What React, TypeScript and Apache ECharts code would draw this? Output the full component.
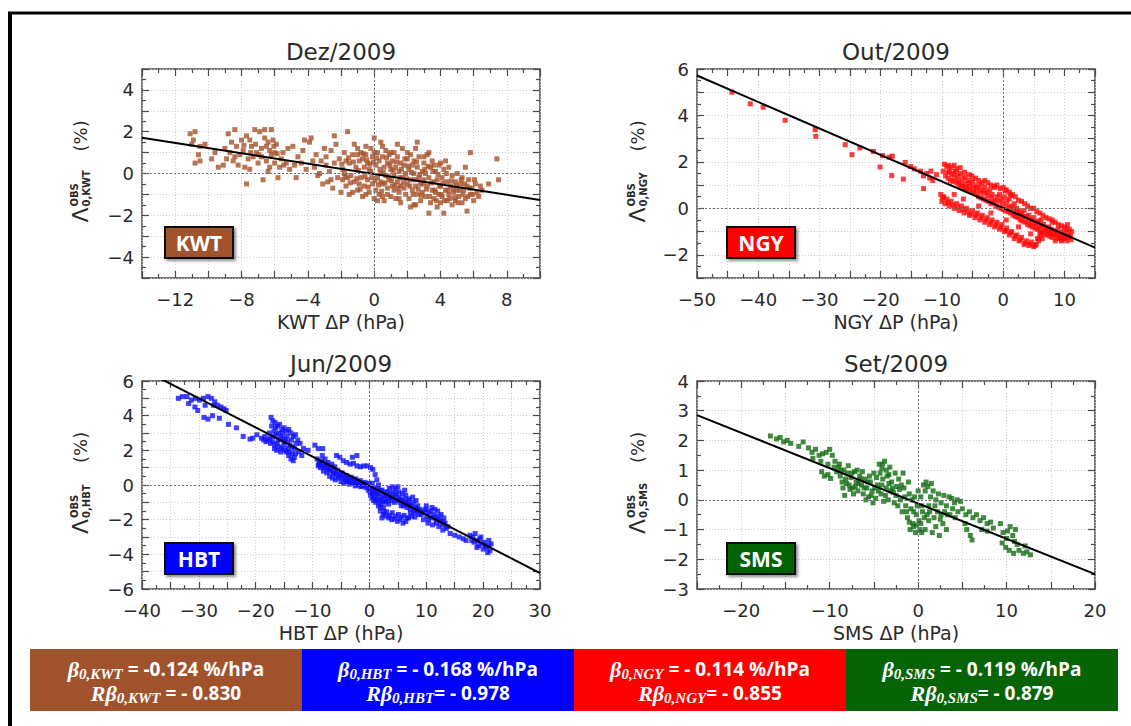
import React, { useEffect, useRef } from 'react';
import * as echarts from 'echarts';

// ---------- data ----------
const KWT_POINTS: number[][] = [
  [-11.1,1.9],[-10.8,2.0],[-10.9,1.6],[-11.0,1.4],[-10.5,1.3],[-10.6,0.9],[-10.8,0.5],[-10.5,0.6],[-10.2,1.4],
  [-9.8,0.7],[-9.4,0.3],[-9.1,0.4],[-9.6,1.0],
  [-8.8,1.9],[-8.4,2.1],[-8.7,1.0],[-8.3,1.3],[-8.1,0.9],[-8.5,0.6],[-8.9,0.7],[-8.2,0.4],[-8.0,1.6],[-8.6,1.5],
  [-7.9,1.1],[-7.7,1.8],[-7.5,1.6],[-7.3,0.8],[-7.6,0.7],[-7.1,1.0],[-7.8,0.3],[-7.7,-0.5],[-7.2,2.1],[-7.4,1.3],[-7.0,0.5],[-7.5,0.2],
  [-6.9,2.0],[-6.6,2.1],[-6.4,1.5],[-6.8,1.2],[-6.2,0.9],[-6.5,0.6],[-6.3,0.3],[-6.0,1.0],[-6.7,-0.3],[-6.1,1.6],[-6.5,1.3],[-6.2,2.1],[-6.0,0.5],[-6.4,0.1],[-6.8,0.8],
  [-5.9,1.4],[-5.8,-0.2],[-5.6,0.7],[-5.5,1.0],[-5.3,0.5],[-5.2,1.2],[-5.7,0.3],[-5.1,0.2],
  [-4.9,1.3],[-4.7,-0.2],[-4.6,0.8],[-4.4,0.5],[-4.3,1.1],[-4.1,0.2],[-4.8,0.4],[-4.2,1.6],
  [-3.9,1.5],[-3.8,1.7],[-3.6,0.3],[-3.5,0.9],[-3.4,-0.1],[-3.2,0.6],[-3.0,1.2],[-3.3,0.0],[-3.7,0.6],[-3.1,-0.5],
  [-2.9,0.8],[-2.8,-0.4],[-2.7,0.1],[-2.6,1.1],[-2.5,-0.7],[-2.4,0.5],[-2.3,1.4],[-2.2,-0.2],[-2.1,0.7],[-2.0,-0.9],[-2.6,-0.3],[-2.9,0.4],[-2.4,1.8],
  [-1.9,0.2],[-1.8,1.0],[-1.7,-0.6],[-1.6,2.0],[-1.5,0.5],[-1.5,-1.0],[-1.4,-0.1],[-1.3,0.9],[-1.2,-0.4],[-1.1,0.3],[-1.0,1.2],[-1.0,-0.8],[-1.9,-0.3],[-1.7,0.6],[-1.3,-0.9],[-1.2,1.4],[-1.6,-0.2],[-1.8,0.0],
  [-0.9,0.6],[-0.8,-0.2],[-0.8,1.0],[-0.7,-1.1],[-0.6,0.3],[-0.6,-0.6],[-0.5,0.9],[-0.4,-0.3],[-0.4,0.5],[-0.3,-0.9],[-0.2,1.2],[-0.2,0.1],[-0.1,-0.5],[-0.1,0.8],[0.0,1.7],[0.0,-1.2],[-0.9,-0.5],[-0.5,1.3],[-0.3,0.2],[-0.7,0.7],
  [0.1,0.4],[0.1,-0.8],[0.2,1.0],[0.2,-0.2],[0.3,0.6],[0.3,-1.0],[0.4,1.5],[0.4,0.0],[0.5,-0.5],[0.5,0.8],[0.6,-1.3],[0.6,0.3],[0.7,-0.1],[0.7,1.1],[0.8,-0.7],[0.8,0.5],[0.9,-0.3],[0.9,0.9],[1.0,-1.1],[1.0,0.2],[0.2,-1.3],[0.5,1.3],[0.8,-1.0],[0.4,-0.4],
  [1.1,0.6],[1.1,-0.6],[1.2,-0.1],[1.2,1.0],[1.3,-1.2],[1.3,0.3],[1.4,-0.4],[1.4,0.8],[1.5,-0.9],[1.5,0.1],[1.6,0.5],[1.6,-1.4],[1.7,-0.2],[1.7,1.2],[1.8,-0.7],[1.8,0.4],[1.9,-1.0],[1.9,0.0],[2.0,0.7],[2.0,-0.5],[1.2,-0.8],[1.6,-0.6],[1.4,1.4],
  [2.1,-1.2],[2.1,0.2],[2.2,-0.3],[2.2,0.9],[2.3,-0.8],[2.3,0.4],[2.4,-1.5],[2.4,0.0],[2.5,-0.6],[2.5,1.2],[2.6,-1.0],[2.6,0.3],[2.7,-0.2],[2.7,0.8],[2.8,-1.3],[2.8,-0.5],[2.9,0.1],[2.9,-0.9],[3.0,0.5],[3.0,-0.3],[2.2,-1.6],[2.6,1.5],[2.4,0.6],
  [3.1,-1.1],[3.1,0.0],[3.2,-0.6],[3.2,0.9],[3.3,-1.9],[3.3,-0.2],[3.4,-1.4],[3.4,0.3],[3.5,-0.8],[3.5,0.6],[3.6,-0.4],[3.6,-1.2],[3.7,0.1],[3.7,-0.9],[3.8,-1.6],[3.8,-0.3],[3.9,0.4],[3.9,-1.0],[4.0,-0.6],[4.0,-1.4],[3.3,1.0],[3.6,0.4],
  [4.1,-0.2],[4.1,-1.1],[4.2,-1.9],[4.2,0.2],[4.3,-0.8],[4.4,-1.3],[4.4,-0.4],[4.5,0.3],[4.5,-1.0],[4.6,-0.6],[4.7,-1.5],[4.7,-0.1],[4.8,-0.9],[4.9,-0.4],[4.9,-1.3],[5.0,0.0],[5.0,-0.8],[4.3,0.6],
  [5.1,-1.1],[5.2,-0.5],[5.3,-1.4],[5.3,-0.2],[5.4,-0.8],[5.5,-1.2],[5.6,-1.8],[5.6,-0.6],[5.7,-0.3],[5.8,1.0],[5.8,-1.0],[5.9,-0.7],[6.0,-1.3],[6.1,-0.5],[5.5,0.3],
  [6.2,-0.9],[6.3,-1.1],[6.4,-0.6],[6.5,-0.8],[6.9,-0.5],[7.4,0.7],[7.5,-0.3],
  [-1.95,0.45],[-1.75,-0.15],[-1.55,0.75],[-1.45,-0.45],[-1.25,0.55],[-1.05,-0.25],[-0.95,0.15],[-0.85,-0.75],[-0.65,0.95],[-0.55,-0.15],[-0.45,0.65],[-0.35,-0.65],[-0.25,0.45],[-0.15,-0.2],[-0.05,0.55],
  [0.05,-0.35],[0.15,0.75],[0.25,-0.55],[0.35,0.2],[0.45,-0.85],[0.55,0.05],[0.65,-0.45],[0.75,0.75],[0.85,-0.15],[0.95,0.4],[1.05,-0.35],[1.15,0.15],[1.25,-0.55],[1.35,0.55],[1.45,-0.7],[1.55,-0.2],[1.65,0.2],[1.75,-0.45],[1.85,0.7],[1.95,-0.25],
  [2.05,0.35],[2.15,-0.6],[2.25,0.05],[2.35,-1.0],[2.45,-0.3],[2.55,0.55],[2.65,-0.75],[2.75,-0.05],[2.85,-1.05],[2.95,-0.5],[3.05,0.2],[3.15,-0.75],[3.25,0.35],[3.35,-1.1],[3.45,-0.45],[3.55,0.1],[3.65,-0.8],[3.75,-1.3],[3.85,-0.05],[3.95,-0.6],
  [4.05,-1.0],[4.15,-0.45],[4.25,-1.3],[4.35,0.0],[4.45,-0.8],[4.55,-1.2],[4.65,-0.35],[4.75,-0.75],[4.85,-1.15],[4.95,-0.6],[5.05,-1.4],[5.15,-0.8],[5.25,-0.3],[5.35,-1.0],[5.45,-0.5],[5.65,-1.1],[5.75,-0.7],[5.95,-1.0],[6.05,-0.3],
  [1.0,1.0],[2.0,1.0],[0.0,1.0],[-1.0,0.9],[3.0,0.8],[4.0,0.5],[1.5,-1.2],[2.5,-1.5],[0.5,-1.1],[-0.5,-1.0],
  [-7.85,1.35],[-7.45,1.0],[-7.15,1.4],[-6.95,0.9],[-6.6,1.7],[-6.3,1.1],[-6.05,1.3],[-5.85,0.95],[-5.45,0.4],[-8.4,0.8],[-9.0,1.2]
];

const NGY_POINTS: number[][] = [
  [-44.3,5.0],[-41.3,4.5],[-39.2,4.36],[-35.6,3.79],[-30.7,3.39],[-30.6,3.1],[-25.8,2.74],[-24.7,2.31],[-23.4,2.6],[-21.2,2.45],
  [-20.1,1.78],[-19.7,2.27],[-18.6,2.2],[-18.1,2.25],[-18.2,1.41],[-16.3,1.26],[-16.0,1.98],[-15.1,1.8],[-13.0,0.85],
  [-14.5,1.7],[-13.5,1.6],[-12.5,1.5],[-12.0,1.3],[-13.0,1.4],[-11.5,1.2],[-11.8,1.6],[-10.9,1.45],
  [-9.6,1.9],[-9.2,1.8],[-8.8,1.6],[-8.5,1.75],[-8.1,1.5],[-7.8,1.6],[-7.4,1.4],[-7.0,1.5],[-6.6,1.3],[-6.2,1.35],[-5.8,1.2],[-5.4,1.1],[-5.0,1.2],[-4.6,1.0],[-4.2,0.9],[-3.8,1.0],[-3.4,0.8],[-3.0,0.9],[-2.6,0.7],[-2.2,0.8],[-1.8,0.6],[-1.4,0.9],[-1.0,0.5],[-0.6,0.6],[-0.2,0.4],[0.2,0.5],[0.6,0.3],[1.0,0.4],[1.4,0.1],[1.8,0.2],[2.2,0.0],[2.6,-0.1],[3.0,-0.2],[3.4,-0.1],[3.8,-0.35],[4.2,-0.3],[4.6,-0.5],[5.0,-0.4],[5.4,-0.6],[5.8,-0.55],[6.2,-0.75],[6.6,-0.7],[7.0,-0.85],[7.4,-0.8],[7.8,-0.9],[8.2,-0.95],[8.6,-1.0],[9.0,-0.9],[9.4,-1.1],[9.8,-1.0],[10.2,-1.15],[10.6,-1.05],[11.0,-1.2],
  [-9.4,1.4],[-9.0,1.3],[-8.6,1.2],[-8.2,1.15],[-7.6,1.1],[-7.2,1.0],[-6.8,0.95],[-6.4,0.9],[-6.0,0.85],[-5.6,0.8],[-5.2,0.7],[-4.8,0.7],[-4.4,0.6],[-4.0,0.5],[-3.6,0.45],[-3.2,0.4],[-2.8,0.35],[-2.4,0.3],[-2.0,0.2],[-1.6,0.25],[-1.2,0.1],[-0.8,0.05],[-0.4,0.0],[0.0,-0.05],[0.4,-0.1],[0.8,-0.15],[1.2,-0.2],[1.6,-0.3],[2.0,-0.35],[2.4,-0.4],[2.8,-0.5],[3.2,-0.55],[3.6,-0.6],[4.0,-0.7],[4.4,-0.75],[4.8,-0.8],[5.2,-0.85],[5.6,-0.9],[6.0,-1.0],[6.4,-1.05],[6.8,-1.1],[7.2,-1.15],[7.6,-1.2],[8.0,-1.25],[8.4,-1.15],[8.8,-1.3],[9.2,-1.25],[9.6,-1.35],[10.0,-1.3],[10.4,-1.4],
  [-10.2,0.6],[-10.0,0.3],[-9.7,0.5],[-9.5,0.2],[-9.2,0.4],[-8.8,0.1],[-8.5,0.3],[-8.0,0.0],[-7.6,0.2],[-7.2,-0.1],[-6.8,0.1],[-6.4,-0.2],[-6.0,0.0],[-5.5,-0.3],[-5.0,-0.1],[-4.6,-0.4],[-4.2,-0.2],[-3.8,-0.5],[-3.4,-0.3],[-3.0,-0.6],[-2.6,-0.4],[-2.2,-0.7],[-1.8,-0.5],[-1.4,-0.8],[-1.0,-0.6],[-0.6,-0.9],[-0.2,-0.7],[0.2,-1.0],[0.6,-0.85],[1.0,-1.15],[1.4,-1.0],[1.8,-1.3],[2.2,-1.15],[2.6,-1.4],[3.0,-1.25],[3.4,-1.55],[3.8,-1.4],[4.2,-1.6],[4.6,-1.45],[5.0,-1.65],[5.4,-1.55],[5.8,-1.4],[6.0,-1.2],
  [-8.0,0.6],[-6.5,0.4],[-4.0,0.1],[-2.0,-0.2],[0.5,-0.5],[2.5,-0.8],[4.5,-1.1],[6.4,-1.3],[6.2,-0.5],
  [8.0,-0.6],[9.0,-0.7],[10.0,-0.8],[10.8,-0.9],[11.2,-1.0],[10.5,-0.7],[9.5,-1.4],[8.5,-1.4],[7.5,-1.0],
  [-3.0,1.2],[-2.0,1.0],[-1.0,1.0],[0.5,0.8],[1.0,0.7],[2.0,0.5],[3.0,0.3],[4.0,0.1],[5.0,0.0],[6.0,-0.2],[7.0,-0.4],[8.0,-0.5],
  [-5.5,1.45],[-4.5,1.3],[-2.5,1.1],[-0.5,0.85],[1.5,0.6],[-7.0,1.75],[-8.0,1.85],
  [-9.8,1.6],[-9.0,1.55],[-8.4,1.45],[-7.9,1.3],[-7.3,1.2],[-6.7,1.1],[-6.1,1.05],[-5.5,0.95],[-4.9,0.9],[-4.3,0.8],[-3.7,0.7],[-3.1,0.65],[-2.5,0.55],[-1.9,0.45],[-1.3,0.35],[-0.7,0.3],[-0.1,0.2],[0.5,0.1],[1.1,0.05],[1.7,-0.05],[2.3,-0.2],[2.9,-0.3],[3.5,-0.35],[4.1,-0.5],[4.7,-0.6],[5.3,-0.65],[5.9,-0.8],[6.5,-0.9],[7.1,-0.95],[7.7,-1.05],[8.3,-1.1],[8.9,-1.15],[9.5,-1.2],[10.1,-1.25],[10.7,-1.25],[11.1,-1.35],
  [-9.9,0.45],[-9.0,0.25],[-8.2,0.15],[-7.4,0.05],[-6.6,-0.05],[-5.8,-0.15],[-5.2,-0.25],[-4.4,-0.3],[-3.6,-0.4],[-2.8,-0.5],[-2.0,-0.6],[-1.2,-0.7],[-0.4,-0.8],[0.4,-0.95],[1.2,-1.05],[2.0,-1.2],[2.8,-1.35],[3.6,-1.5],[4.4,-1.55],[5.2,-1.6],[5.6,-1.3],[6.2,-1.1],
  [-8.9,1.85],[-7.6,1.7],[-6.3,1.55],[-5.1,1.4],[-4.0,1.2],[-3.4,1.1],[-1.5,0.95],[0.0,0.9],[0.3,0.75],[1.2,0.55],[2.5,0.35],[3.5,0.2],[4.5,0.0],[5.5,-0.15],[6.5,-0.3],[7.5,-0.45],[8.5,-0.6],[9.5,-0.75],[10.3,-0.9]
];

const HBT_POINTS: number[][] = [
  [-33.6,5.0],[-32.9,5.1],[-32.1,5.1],[-31.3,4.9],[-30.6,5.0],[-29.9,4.9],[-29.2,5.0],[-28.4,5.1],[-27.8,5.0],[-27.2,4.8],[-26.7,4.6],[-26.1,4.5],[-25.6,4.4],[-25.2,4.3],[-30.7,4.5],[-30.2,4.3],[-29.1,3.9],[-28.4,3.8],[-27.6,4.0],[-26.4,3.85],[-31.8,4.7],[-28.9,4.6],[-27.4,4.6],
  [-24.8,3.5],[-23.4,3.3],[-22.2,2.8],[-21.0,2.65],[-19.8,2.9],[-20.5,2.7],
  [-19.0,2.7],[-18.6,2.6],[-18.2,2.5],[-17.8,2.6],[-17.4,2.4],[-17.0,2.5],[-16.6,2.3],[-16.2,2.4],[-15.8,2.2],[-15.4,2.1],[-15.0,2.3],[-14.6,1.9],[-14.2,1.7],[-13.8,1.5],[-13.4,1.4],[-13.2,1.6],
  [-17.3,3.9],[-17.0,3.7],[-16.6,3.6],[-16.2,3.4],[-15.8,3.5],[-15.4,3.2],[-15.0,3.3],[-14.6,3.1],[-14.2,3.2],[-13.8,3.0],[-13.4,2.8],[-13.0,2.9],[-12.6,2.6],
  [-17.2,3.4],[-16.8,3.1],[-16.4,2.9],[-16.0,3.0],[-15.6,2.8],[-15.2,2.7],[-14.8,2.6],[-14.4,2.5],[-14.0,2.3],[-13.6,2.2],[-13.2,2.1],[-17.6,3.0],[-16.9,2.8],[-14.9,2.0],[-14.1,1.9],[-13.6,1.8],[-15.6,1.9],[-16.3,2.0],
  [-12.2,2.4],[-11.6,2.1],[-10.8,2.0],[-9.6,2.3],[-9.0,2.1],[-8.2,2.1],[-12.4,1.9],[-11.9,1.7],
  [-9.2,1.5],[-8.8,1.3],[-8.4,1.4],[-8.0,1.1],[-7.6,1.2],[-7.2,0.9],[-6.8,1.0],[-6.4,0.8],[-6.0,0.7],[-5.6,0.85],[-5.2,0.6],[-4.8,0.7],[-4.4,0.5],[-4.0,0.55],[-3.6,0.4],[-3.2,0.45],[-2.8,0.3],[-2.4,0.35],[-2.0,0.2],[-1.6,0.25],[-1.2,0.1],[-0.8,0.15],[-0.4,0.0],
  [-8.6,1.0],[-8.1,0.8],[-7.5,0.7],[-7.0,0.5],[-6.5,0.4],[-6.0,0.3],[-5.5,0.4],[-5.0,0.2],[-4.5,0.1],[-4.0,0.2],[-3.5,0.05],[-3.0,0.1],[-2.5,-0.05],[-2.0,0.0],[-1.5,-0.1],
  [-9.0,1.1],[-8.3,1.7],[-7.8,1.5],[-7.3,1.3],[-6.6,1.2],[-6.1,1.05],
  [-5.8,1.7],[-5.2,1.6],[-4.6,1.4],[-4.0,1.3],[-3.4,1.2],[-2.8,1.25],[-2.2,1.1],[-1.6,1.05],[-1.0,1.1],[-0.4,1.1],[0.2,1.0],[0.6,0.9],[1.0,0.6],[1.3,0.3],[1.6,0.0],[-3.0,1.6],[-2.2,1.7],
  [0.0,-0.1],[0.3,-0.3],[0.6,-0.2],[0.9,-0.5],[1.2,-0.4],[1.5,-0.6],[1.8,-0.5],[2.1,-0.8],[2.4,-0.7],[2.7,-0.6],[3.0,-0.9],[3.3,-0.8],[3.6,-0.5],[3.9,-0.7],[4.2,-0.4],[4.5,-0.6],[4.8,-0.9],[5.1,-0.7],[5.4,-1.0],[5.7,-0.9],[6.0,-1.2],[6.3,-1.0],[6.6,-1.3],[6.9,-1.1],[7.2,-1.4],[7.5,-1.2],[7.8,-1.5],[8.1,-1.3],[8.4,-1.4],[8.7,-1.7],
  [0.2,-0.6],[0.7,-0.9],[1.1,-1.0],[1.6,-1.2],[2.0,-1.1],[2.5,-1.3],[3.5,-0.2],[4.0,-0.1],[4.6,-0.2],[5.2,-0.4],[5.8,-0.5],[6.4,-0.6],[7.0,-0.8],[7.6,-0.7],[8.2,-0.9],[0.5,0.1],[1.4,-0.2],[2.2,-0.3],[3.2,-0.4],[5.0,-0.1],[6.2,-0.3],
  [-0.2,-0.3],[0.4,-0.5],[2.8,-1.0],[4.4,-1.0],[6.8,-0.9],
  [1.9,-1.5],[2.4,-1.7],[2.9,-1.8],[3.4,-1.9],[3.9,-2.0],[4.4,-1.95],[4.9,-2.1],[5.4,-2.0],[5.9,-2.2],[6.4,-2.1],[6.9,-1.9],[7.4,-1.8],[2.2,-1.9],[3.0,-1.55],[4.0,-1.6],[5.1,-1.7],[6.1,-1.75],
  [8.9,-1.4],[9.3,-1.6],[9.7,-1.5],[10.1,-1.8],[10.5,-1.6],[10.9,-1.9],[11.3,-1.7],[11.7,-2.0],[12.1,-1.8],[12.5,-2.1],[12.9,-2.3],[13.3,-2.2],[13.5,-2.5],[11.0,-1.3],[11.5,-1.4],[12.0,-1.5],[12.6,-1.7],[13.1,-1.9],[9.5,-2.0],[10.3,-2.2],[11.1,-2.3],[12.2,-2.4],[12.9,-2.6],[10.0,-1.2],
  [14.2,-2.8],[15.0,-2.9],[15.8,-3.0],[16.5,-3.1],[17.0,-3.2],
  [17.7,-2.9],[18.2,-3.0],[18.6,-2.8],[19.0,-3.2],[19.4,-3.1],[19.8,-3.4],[20.2,-3.3],[20.6,-3.6],[21.0,-3.5],[21.2,-3.8],[18.4,-3.3],[19.2,-3.5],[20.0,-3.7],[20.8,-3.9],[18.9,-3.6],[21.4,-3.4],
  [-8.9,1.2],[-8.5,1.15],[-7.9,1.0],[-7.4,1.0],[-6.9,0.8],[-6.3,0.65],[-5.8,0.6],[-5.3,0.5],[-4.7,0.4],[-4.2,0.35],[-3.7,0.25],[-3.3,0.2],[-2.6,0.15],[-2.2,0.05],[-1.8,0.1],[-1.4,-0.05],[-0.9,-0.05],[-0.6,-0.15],[-0.1,0.1],
  [0.1,-0.4],[0.5,-0.75],[0.8,-0.3],[1.0,-0.7],[1.3,-0.85],[1.7,-0.9],[1.9,-0.3],[2.3,-0.95],[2.6,-0.4],[3.1,-0.6],[3.4,-1.1],[3.8,-0.9],[4.1,-0.75],[4.7,-0.5],[5.3,-0.8],[5.6,-1.2],[6.1,-0.8],[6.5,-1.1],[7.1,-1.2],[7.7,-1.0],[8.0,-1.6],[8.5,-1.2],[8.8,-1.5],
  [-16.0,2.6],[-15.0,2.5],[-14.3,2.1],[-16.5,3.3],[-15.3,3.0],[-14.5,2.8],[-13.7,2.6],[-17.5,2.7],[-18.4,2.8],[-16.7,2.1],[-12.9,2.4],[-13.0,1.8],
  [9.1,-1.7],[9.9,-1.4],[10.7,-1.5],[11.5,-1.85],[12.3,-2.0],[13.0,-2.1],[13.8,-2.4],[10.4,-2.0],[11.8,-2.2],[19.6,-3.0],[20.4,-3.5],[21.0,-3.2],[18.0,-3.2],
  [2.6,-1.55],[3.6,-1.75],[4.6,-1.8],[5.6,-1.85],[6.6,-1.9],[7.2,-1.6],[2.0,-1.3],[8.0,-1.85]
];

const SMS_POINTS: number[][] = [
  [-16.7,2.15],[-16.0,2.05],[-15.6,2.1],[-15.2,1.95],[-14.8,2.0],[-14.4,1.9],[-13.5,1.8],[-13.0,1.95],[-12.4,1.75],[-12.0,1.6],[-11.6,1.7],[-11.2,1.5],[-10.8,1.55],[-10.4,1.6],[-10.0,1.7],[-9.7,1.5],[-9.4,1.3],[-11.9,1.4],[-11.0,1.3],[-10.2,1.2],
  [-10.9,0.95],[-10.6,0.8],[-10.2,0.85],[-9.9,0.72],
  [-9.0,1.1],[-8.8,0.8],[-8.6,0.6],[-8.4,1.0],[-8.2,0.7],[-8.0,0.9],[-7.8,0.5],[-7.6,0.75],[-7.4,0.4],[-7.2,0.95],[-7.0,0.6],[-6.8,0.3],[-6.6,0.8],[-6.4,0.5],[-6.2,0.2],[-6.0,0.7],[-5.8,0.4],[-5.6,0.1],[-5.4,0.6],[-5.2,0.3],[-5.0,0.9],[-4.8,0.05],[-4.6,0.5],[-4.4,1.2],[-4.2,0.2],[-4.0,0.7],[-3.8,1.3],[-3.6,0.4],[-3.4,0.0],[-3.2,1.1],[-3.0,0.6],[-2.8,0.25],[-2.6,0.9],[-2.4,0.45],
  [-8.9,1.2],[-8.5,0.4],[-7.9,1.15],[-7.3,0.2],[-6.9,1.0],[-6.3,0.95],[-5.9,0.0],[-5.5,0.8],[-5.1,-0.1],[-4.7,0.75],[-4.3,0.9],[-3.9,-0.05],[-3.5,0.8],[-3.1,0.3],[-2.7,-0.1],[-4.1,1.05],[-3.3,0.55],[-6.7,0.55],[-7.7,0.35],[-8.3,0.15],
  [-2.2,0.7],[-2.0,0.0],[-1.8,-0.4],[-1.6,0.4],[-1.4,-0.2],[-1.2,-0.6],[-1.0,0.2],[-0.8,-0.3],[-0.6,-0.8],[-0.4,0.1],[-0.2,-0.5],[0.0,0.3],[0.2,-1.0],[0.4,-0.2],[0.6,0.5],[-1.7,0.9],[-0.9,-1.0],[-0.3,-1.1],[0.1,-0.7],[0.5,-0.4],[-2.3,-0.2],[-1.1,0.6],
  [-0.5,-0.9],[0.3,-0.8],[0.8,-1.0],[1.2,-0.7],[1.6,-1.1],[2.0,-0.9],[2.4,-1.2],[2.8,-0.8],[3.2,-1.0],[1.0,-0.5],[1.8,-0.6],[2.6,-0.5],
  [0.8,0.3],[1.1,0.45],[1.4,0.1],[1.7,0.3],[2.0,0.0],[2.3,0.2],[2.6,-0.1],[2.9,0.15],[3.2,-0.2],[3.5,0.1],[3.8,0.05],[4.1,-0.1],[4.4,0.0],[4.8,-0.05],[1.2,-0.2],[2.2,-0.4],[3.0,-0.4],[3.6,-0.5],[4.2,-0.6],[0.9,0.6],[1.5,0.55],
  [5.0,-0.3],[5.4,-0.5],[5.8,-0.4],[6.2,-0.6],[6.6,-0.5],[7.0,-0.7],[7.4,-0.6],[7.8,-0.8],[8.2,-0.75],[5.5,-1.0],[5.9,-1.2],[6.1,-1.35],[7.2,-1.0],[7.8,-1.05],[8.5,-0.95],[5.3,-0.8],
  [9.3,-0.8],[9.6,-1.1],[10.0,-1.3],[10.4,-0.9],[10.7,-1.2],[11.0,-1.0],[11.2,-1.5],[9.5,-1.45],[9.9,-1.6],[10.3,-1.7],[10.8,-1.8],[11.4,-1.7],[11.9,-1.8],[12.3,-1.75],[12.7,-1.85],[12.1,-1.55],[10.1,-1.05],[10.9,-1.4],
  [-8.7,1.0],[-8.1,0.55],[-7.5,0.9],[-7.1,0.45],[-6.5,0.7],[-6.1,0.4],[-5.7,0.6],[-5.3,0.15],[-4.9,0.4],[-4.5,0.3],[-4.1,0.5],[-3.7,0.15],[-3.3,0.85],[-2.9,0.4],[-2.5,0.15],[-2.1,0.35],[-1.5,0.1],[-1.3,-0.4],[-0.7,0.0],[-0.5,-0.4],[-0.1,-0.2],[0.3,0.1],[0.7,-0.6],[1.3,-0.4],[1.9,-0.2],[2.5,-0.65],[3.3,-0.5],[3.9,-0.3],[4.5,-0.4],[-1.9,0.5],[-1.0,-0.75],[-0.2,-0.85],[0.4,-1.1],[-4.0,1.2],[-3.6,1.0],[-9.2,0.95],[-9.5,1.1]
];

// regression lines (end points)
const KWT_LINE: number[][] = [[-14, 1.71], [10, -1.27]];
const NGY_LINE: number[][] = [[-50, 5.72], [15, -1.69]];
const HBT_LINE: number[][] = [[-40, 6.68], [30, -5.08]];
const SMS_LINE: number[][] = [[-25, 2.85], [20, -2.5]];

const TITLES = ['Dez/2009', 'Out/2009', 'Jun/2009', 'Set/2009'];
const STATIONS = ['KWT', 'NGY', 'HBT', 'SMS'];

// bottom summary boxes (order: KWT, HBT, NGY, SMS)
const SUM_STATIONS = ['KWT', 'HBT', 'NGY', 'SMS'];
const SUM_SLOPES = ['-0.124 %/hPa', '- 0.168 %/hPa', '- 0.114 %/hPa', '- 0.119 %/hPa'];
const SUM_CORRS = ['- 0.830', '- 0.978', '- 0.855', '- 0.879'];

const FONT = '"DejaVu Sans", sans-serif';
const INK = '#2a2a2a';

const fmt = (v: number) => (v < 0 ? '\u2212' + Math.abs(v) : String(Math.abs(v)));

export default function App() {
  const ref = useRef<HTMLDivElement>(null);
  useEffect(() => {
    const chart = echarts.init(ref.current!, null, { renderer: 'svg' });

    const panels = [
      { x: [-14, 10], xStep: 2, xLab: 4, y: [-5, 5], yLab: 2, pts: KWT_POINTS, line: KWT_LINE, dot: '#a6532a', box: '#a0522d' },
      { x: [-50, 15], xStep: 5, xLab: 10, y: [-3, 6], yLab: 2, pts: NGY_POINTS, line: NGY_LINE, dot: '#ff0a0a', box: '#ff0000' },
      { x: [-40, 30], xStep: 5, xLab: 10, y: [-6, 6], yLab: 2, pts: HBT_POINTS, line: HBT_LINE, dot: '#1010ff', box: '#0000ff' },
      { x: [-25, 20], xStep: 5, xLab: 10, y: [-3, 4], yLab: 1, pts: SMS_POINTS, line: SMS_LINE, dot: '#136d13', box: '#066406' },
    ];
    const boxes = [
      [142, 69, 398, 209],
      [697, 69, 398, 209],
      [142, 381, 398, 208],
      [697, 381, 398, 208],
    ];
    const labelBoxes = [[165, 227], [727, 227], [165, 543], [727, 543]];
    const yNameX = [80, 637, 80, 637];

    const grid: any[] = [];
    const xAxis: any[] = [];
    const yAxis: any[] = [];
    const series: any[] = [];
    const graphic: any[] = [];

    const tick = { show: true, inside: true, length: 7, lineStyle: { color: '#4a4a4a', width: 1.2 } };
    const minor = { show: true, splitNumber: 2, length: 4, lineStyle: { color: '#4a4a4a', width: 1.2 } };
    const split = { show: true, lineStyle: { color: '#cdcdcd', type: [1, 2], width: 1 } };
    const lab = (step: number, margin: number) => ({
      show: true, color: INK, fontSize: 18, fontFamily: FONT, margin,
      formatter: (v: number) => {
        const r = Math.round(v);
        return Math.abs(r) % step === 0 ? fmt(r) : '';
      },
    });

    panels.forEach((p, i) => {
      const b = boxes[i];
      grid.push({ left: b[0], top: b[1], width: b[2], height: b[3], show: true, borderColor: '#4a4a4a', borderWidth: 1.5, backgroundColor: 'transparent' });
      xAxis.push({ type: 'value', gridIndex: i, position: 'bottom', min: p.x[0], max: p.x[1], interval: p.xStep,
        axisLine: { show: false, onZero: false }, axisTick: tick, minorTick: minor, splitLine: split, axisLabel: lab(p.xLab, 12) });
      xAxis.push({ type: 'value', gridIndex: i, position: 'top', min: p.x[0], max: p.x[1], interval: p.xStep,
        axisLine: { show: false, onZero: false }, axisTick: tick, minorTick: minor, splitLine: { show: false }, axisLabel: { show: false } });
      yAxis.push({ type: 'value', gridIndex: i, position: 'left', min: p.y[0], max: p.y[1], interval: 1,
        axisLine: { show: false, onZero: false }, axisTick: tick, minorTick: minor, splitLine: split, axisLabel: lab(p.yLab, 8) });
      yAxis.push({ type: 'value', gridIndex: i, position: 'right', min: p.y[0], max: p.y[1], interval: 1,
        axisLine: { show: false, onZero: false }, axisTick: tick, minorTick: minor, splitLine: { show: false }, axisLabel: { show: false } });

      series.push({ type: 'scatter', xAxisIndex: 2 * i, yAxisIndex: 2 * i, data: [], z: 1, silent: true,
        markLine: { silent: true, symbol: ['none', 'none'], label: { show: false },
          lineStyle: { color: '#707070', type: [2, 2], width: 1 }, data: [{ xAxis: 0 }, { yAxis: 0 }] } });
      series.push({ type: 'scatter', xAxisIndex: 2 * i, yAxisIndex: 2 * i, data: p.pts, symbol: 'rect', symbolSize: 5,
        itemStyle: { color: p.dot }, z: 3, silent: true });
      series.push({ type: 'line', xAxisIndex: 2 * i, yAxisIndex: 2 * i, data: p.line, symbol: 'none', showSymbol: false,
        lineStyle: { color: '#000', width: 2 }, z: 4, clip: true, silent: true });

      const cx = b[0] + b[2] / 2;
      graphic.push({ type: 'text', x: cx, y: b[1] - 17, z: 50,
        style: { text: TITLES[i], font: '23px ' + FONT, fill: INK, textAlign: 'center', textVerticalAlign: 'middle', align: 'center', verticalAlign: 'middle' } });
      graphic.push({ type: 'text', x: cx, y: b[1] + b[3] + 44, z: 50,
        style: { text: STATIONS[i] + ' \u0394P (hPa)', font: '19px ' + FONT, fill: INK, textAlign: 'center', textVerticalAlign: 'middle', align: 'center', verticalAlign: 'middle' } });
      const ts = (t: string, f: string, x: number, y: number) => ({
        type: 'text', x, y, style: { text: t, font: f, fill: INK, textAlign: 'left', textVerticalAlign: 'middle', align: 'left', verticalAlign: 'middle' } });
      graphic.push({ type: 'group', x: yNameX[i], y: b[1] + b[3] / 2, rotation: Math.PI / 2, z: 50,
        children: [
          ts('\u039B', '22px ' + FONT, -49, 0),
          ts('OBS', 'bold 10px ' + FONT, -33, -6),
          ts('0,' + STATIONS[i], 'bold 10px ' + FONT, -33, 6),
          ts('(%)', '18px ' + FONT, 22, 0),
        ] });
      const lb = labelBoxes[i];
      graphic.push({ type: 'rect', z: 60, shape: { x: lb[0], y: lb[1], width: 68, height: 31 },
        style: { fill: p.box, stroke: '#111', lineWidth: 2, shadowBlur: 3, shadowColor: 'rgba(0,0,0,0.45)', shadowOffsetX: 2, shadowOffsetY: 2 } });
      graphic.push({ type: 'text', z: 61, x: lb[0] + 34, y: lb[1] + 16,
        style: { text: STATIONS[i], font: 'bold 21px "Open Sans", sans-serif', fill: '#fff', textAlign: 'center', textVerticalAlign: 'middle', align: 'center', verticalAlign: 'middle' } });
    });

    const sumColors = ['#a0522d', '#0000ff', '#ff0000', '#066406'];
    const sumLeft = [30, 302, 574, 846];
    SUM_STATIONS.forEach((s, k) => {
      graphic.push({ type: 'rect', z: 40, shape: { x: sumLeft[k], y: 649, width: 272, height: 62 }, style: { fill: sumColors[k] } });
      const eq2 = k === 0 ? ' = ' : '= ';
      graphic.push({ type: 'text', z: 41, x: sumLeft[k] + 136, y: 681,
        style: {
          text: '{b|\u03B2}{s|0,' + s + '}{n| = ' + SUM_SLOPES[k] + '}\n{b|R\u03B2}{s|0,' + s + '}{n|' + eq2 + SUM_CORRS[k] + '}',
          fill: '#fff', textAlign: 'center', textVerticalAlign: 'middle', align: 'center', verticalAlign: 'middle',
          rich: {
            b: { font: 'italic bold 22px "Liberation Serif", serif', fill: '#fff', lineHeight: 24 },
            s: { font: 'italic bold 15px "Liberation Serif", serif', fill: '#fff', lineHeight: 15, verticalAlign: 'bottom' },
            n: { font: 'bold 19px "Open Sans", sans-serif', fill: '#fff', lineHeight: 24 },
          },
        } });
    });

    graphic.push({ type: 'line', z: 70, shape: { x1: 8, y1: 13, x2: 1131, y2: 13 }, style: { stroke: '#000', lineWidth: 3 } });
    graphic.push({ type: 'line', z: 70, shape: { x1: 10, y1: 12, x2: 10, y2: 726 }, style: { stroke: '#000', lineWidth: 4 } });

    chart.setOption({
      animation: false,
      backgroundColor: '#fff',
      grid, xAxis, yAxis, series, graphic,
    });
    return () => chart.dispose();
  }, []);
  return <div ref={ref} style={{ position: 'absolute', left: 0, top: 0, width: 1131, height: 726, background: '#fff' }} />;
}
